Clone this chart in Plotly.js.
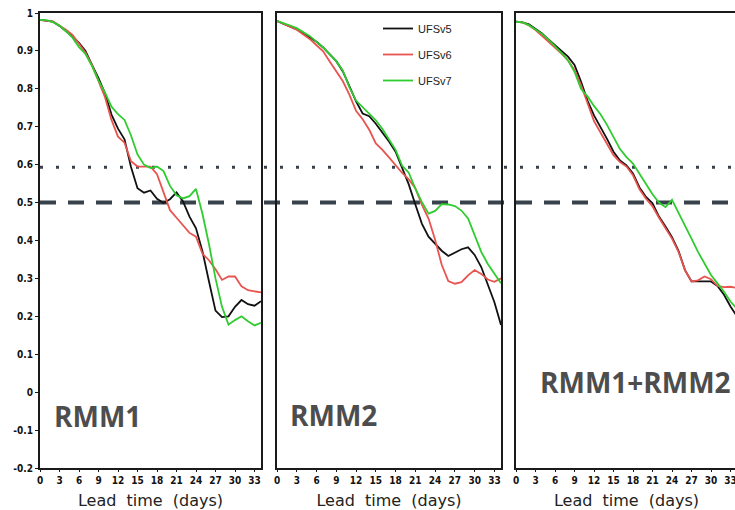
<!DOCTYPE html>
<html>
<head>
<meta charset="utf-8">
<script src="https://cdn.plot.ly/plotly-3.0.1.min.js"></script>
<style>
html, body { margin: 0; padding: 0; overflow: hidden; background: #fff; }
#chart { width: 760px; height: 510px; }
</style>
</head>
<body>
<div id="chart"></div>
<script>
// Lead time (days)
const days = [0,1,2,3,4,5,6,7,8,9,10,11,12,13,14,15,16,17,18,19,20,21,22,23,24,25,26,27,28,29,30,31,32,33,34];

// RMM1
const rmm1_UFSv5 = [0.982,0.98,0.977,0.966,0.953,0.938,0.921,0.90,0.863,0.828,0.788,0.732,0.695,0.667,0.594,0.538,0.526,0.532,0.51,0.499,0.509,0.527,0.503,0.463,0.432,0.371,0.292,0.215,0.198,0.20,0.225,0.243,0.232,0.228,0.24];
const rmm1_UFSv6 = [0.982,0.98,0.977,0.967,0.956,0.942,0.918,0.895,0.863,0.822,0.778,0.718,0.674,0.658,0.609,0.595,0.595,0.595,0.575,0.528,0.48,0.46,0.44,0.42,0.41,0.365,0.348,0.324,0.296,0.305,0.305,0.279,0.269,0.265,0.263];
const rmm1_UFSv7 = [0.982,0.981,0.976,0.967,0.952,0.935,0.91,0.892,0.86,0.822,0.79,0.753,0.733,0.718,0.677,0.627,0.60,0.591,0.595,0.583,0.544,0.519,0.511,0.517,0.536,0.47,0.39,0.30,0.225,0.178,0.19,0.20,0.187,0.176,0.183];

// RMM2
const rmm2_UFSv5 = [0.979,0.972,0.964,0.957,0.946,0.935,0.924,0.909,0.891,0.873,0.846,0.804,0.767,0.735,0.728,0.708,0.685,0.661,0.634,0.592,0.548,0.495,0.444,0.41,0.391,0.373,0.359,0.368,0.377,0.382,0.362,0.33,0.285,0.237,0.177];
const rmm2_UFSv6 = [0.979,0.972,0.963,0.956,0.943,0.931,0.915,0.899,0.872,0.846,0.82,0.784,0.742,0.72,0.692,0.656,0.639,0.619,0.598,0.578,0.561,0.538,0.494,0.458,0.402,0.336,0.293,0.286,0.29,0.308,0.322,0.312,0.297,0.291,0.30];
const rmm2_UFSv7 = [0.979,0.974,0.967,0.96,0.95,0.939,0.924,0.909,0.891,0.873,0.848,0.804,0.769,0.751,0.735,0.717,0.694,0.668,0.639,0.597,0.579,0.537,0.501,0.471,0.478,0.496,0.495,0.491,0.479,0.458,0.416,0.37,0.338,0.313,0.287];

// RMM1+RMM2
const rmm12_UFSv5 = [0.977,0.975,0.97,0.958,0.946,0.93,0.916,0.90,0.885,0.863,0.819,0.769,0.73,0.70,0.668,0.634,0.611,0.598,0.577,0.54,0.515,0.498,0.463,0.437,0.409,0.373,0.322,0.292,0.292,0.292,0.292,0.28,0.257,0.226,0.20];
const rmm12_UFSv6 = [0.977,0.975,0.967,0.955,0.94,0.925,0.91,0.893,0.875,0.85,0.81,0.76,0.715,0.685,0.655,0.625,0.607,0.595,0.572,0.535,0.51,0.49,0.46,0.432,0.405,0.37,0.322,0.292,0.295,0.305,0.298,0.28,0.277,0.278,0.275];
const rmm12_UFSv7 = [0.977,0.975,0.968,0.957,0.945,0.93,0.913,0.895,0.875,0.845,0.80,0.78,0.755,0.733,0.705,0.671,0.641,0.62,0.603,0.576,0.549,0.522,0.50,0.488,0.507,0.474,0.438,0.405,0.37,0.338,0.309,0.287,0.265,0.239,0.22];

const seriesNames = ['UFSv5','UFSv6','UFSv7'];
const seriesColors = ['#111111','#e8544f','#2fcc2f'];
const panelLabels = ['RMM1','RMM2','RMM1+RMM2'];
const panels = [
  [rmm1_UFSv5, rmm1_UFSv6, rmm1_UFSv7],
  [rmm2_UFSv5, rmm2_UFSv6, rmm2_UFSv7],
  [rmm12_UFSv5, rmm12_UFSv6, rmm12_UFSv7]
];

const xTickVals = [0,3,6,9,12,15,18,21,24,27,30,33];
const yTickVals = [1,0.9,0.8,0.7,0.6,0.5,0.4,0.3,0.2,0.1,0,-0.1,-0.2];
const yTickText = ['1','0.9','0.8','0.7','0.6','0.5','0.4','0.3','0.2','0.1','0','-0.1','-0.2'];
const dottedLevel = 0.593;
const dashedLevel = 0.5;

const W = 760, H = 510;
const traces = [];
panels.forEach((p, pi) => {
  p.forEach((vals, si) => {
    traces.push({
      x: days, y: vals, type: 'scatter', mode: 'lines',
      name: seriesNames[si], legendgroup: seriesNames[si],
      showlegend: pi === 1,
      xaxis: pi === 0 ? 'x' : 'x' + (pi + 1),
      yaxis: pi === 0 ? 'y' : 'y' + (pi + 1),
      line: { color: seriesColors[si], width: 1.8 },
      hoverinfo: 'skip'
    });
  });
});

const xDomains = [[40/W, 261/W], [277/W, 501/W], [516/W, 737/W]];
const yDomain = [42/H, 497/H];

const tickFont = { family: 'DejaVu Sans Condensed, DejaVu Sans', size: 10, color: '#111', weight: 'bold' };

function xAxis(dom, anchor) {
  return {
    domain: dom, anchor: anchor, range: [0, 34],
    showline: true, mirror: true, linecolor: '#1a1a1a', linewidth: 2,
    showgrid: false, zeroline: false,
    tickvals: xTickVals, ticks: 'outside', ticklen: 2, tickcolor: '#1a1a1a',
    tickfont: tickFont,
    title: { text: 'Lead  time  (days)', font: { family: 'DejaVu Sans', size: 16, color: '#222' }, standoff: 11 }
  };
}
function yAxis(anchor, labels) {
  return {
    domain: yDomain, anchor: anchor, range: [-0.2, 1],
    showline: true, mirror: true, linecolor: '#1a1a1a', linewidth: 2,
    showgrid: false, zeroline: false,
    tickvals: yTickVals, ticktext: yTickText,
    ticks: labels ? 'outside' : '', ticklen: 3, tickcolor: '#1a1a1a',
    showticklabels: labels,
    tickfont: tickFont
  };
}

const lineColor = '#38424c';
const shapes = [
  { type: 'line', xref: 'paper', yref: 'y', x0: 40/W, x1: 1, y0: dottedLevel, y1: dottedLevel,
    line: { color: lineColor, width: 3, dash: '3px,13px' }, layer: 'below' },
  { type: 'line', xref: 'paper', yref: 'y', x0: 40/W, x1: 1, y0: dashedLevel, y1: dashedLevel,
    line: { color: lineColor, width: 4, dash: '16px,12px' }, layer: 'below' }
];

const labelPos = [[97/W, 1 - 416/H], [333/W, 1 - 415/H], [635/W, 1 - 382/H]];
const annotations = panelLabels.map((t, i) => ({
  text: t, xref: 'paper', yref: 'paper', x: labelPos[i][0], y: labelPos[i][1],
  xanchor: 'center', yanchor: 'middle', showarrow: false,
  font: { family: 'Open Sans', size: 28, color: '#4d4d4d', weight: 'bold' }
}));

const layout = {
  width: W, height: H,
  margin: { l: 0, r: 0, t: 0, b: 0 },
  paper_bgcolor: '#ffffff', plot_bgcolor: 'rgba(0,0,0,0)',
  showlegend: true,
  legend: {
    x: 378/W, y: 1 - 14/H, xanchor: 'left', yanchor: 'top',
    bgcolor: 'rgba(0,0,0,0)', borderwidth: 0,
    font: { family: 'Liberation Sans', size: 11, color: '#222' },
    traceorder: 'grouped', tracegroupgap: 7, itemwidth: 30
  },
  xaxis: xAxis(xDomains[0], 'y'), yaxis: yAxis('x', true),
  xaxis2: xAxis(xDomains[1], 'y2'), yaxis2: yAxis('x2', false),
  xaxis3: xAxis(xDomains[2], 'y3'), yaxis3: yAxis('x3', false),
  shapes: shapes, annotations: annotations
};

Plotly.newPlot('chart', traces, layout, { staticPlot: true, displayModeBar: false });
</script>
</body>
</html>
